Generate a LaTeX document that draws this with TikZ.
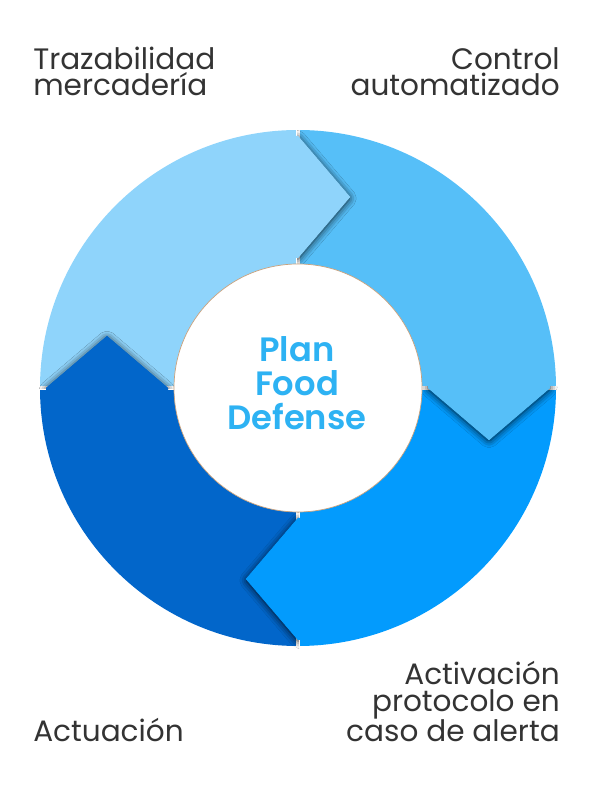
\documentclass[tikz,border=0pt]{standalone}
\usepackage{fontspec}
\setmainfont{Poppins}
\newfontfamily\titlefont{Poppins SemiBold}
\usetikzlibrary{shadows.blur,calc}
\begin{document}
\begin{tikzpicture}[x=0.025cm,y=0.025cm]
   \definecolor{segone}{HTML}{8FD4FB}
   \definecolor{segtwo}{HTML}{56BFF8}
   \definecolor{segthree}{HTML}{039BFD}
   \definecolor{segfour}{HTML}{0266CA}
   \definecolor{rimcolor}{HTML}{C9A27E}
   \definecolor{titlecolor}{HTML}{2DB2F3}
   \definecolor{labelcolor}{HTML}{333333}
   \tikzset{
     arrowshadow/.style={blur shadow={shadow xshift=0pt,shadow yshift=-1pt,
       shadow blur radius=5pt,shadow blur extra rounding=1pt,shadow opacity=85}},
     steplabel/.style={inner sep=0pt,text=labelcolor,font=\fontsize{21}{18.7}\selectfont}
   }
   \useasboundingbox (0,0) rectangle (600,800);
   \coordinate (c) at (298,412);
   % ring quarters
   \fill [segone] (c) -- ++(90:258) arc (90:180:258) -- cycle;
   \fill [segtwo] (c) -- ++(0:258) arc (0:90:258) -- cycle;
   \fill [segthree] (c) -- ++(-90:258) arc (-90:0:258) -- cycle;
   \fill [segfour] (c) -- ++(180:258) arc (180:270:258) -- cycle;
   \draw [white,line width=2.6pt] ($(c)+(0,-262)$) -- ($(c)+(0,262)$);
   \draw [white,line width=2.6pt] ($(c)+(-262,0)$) -- ($(c)+(262,0)$);
   % arrow tips
   \foreach \a/\col in {0/segone,-90/segtwo,-180/segthree,-270/segfour}{
     \begin{scope}[shift={(c)},rotate=\a]
       \begin{scope}
         \clip (-1,0) rectangle (262,262);
         \fill [\col,arrowshadow] (-4,252) -- (0,252) -- (52,191) -- (0,130) -- (-4,130) -- cycle;
       \end{scope}
       \fill [\col] (-3,252) -- (0,252) -- (52,191) -- (0,130) -- (-3,130) -- cycle;
     \end{scope}
   }
   \filldraw [fill=white,draw=rimcolor,line width=0.5pt] (c) circle (124);
   \node (plan) [text=titlecolor,font=\titlefont\fontsize{24}{24.2}\selectfont,align=center]
     at (297,417) {Plan\\Food\\Defense};
   \node (trace) [steplabel,anchor=base west,align=left] at (33,704) {Trazabilidad\\mercadería};
   \node (control) [steplabel,anchor=base east,align=right] at (560,704) {Control\\automatizado};
   \node (alert) [steplabel,anchor=base east,align=right] at (560,58)
     {Activación\\protocolo en\\caso de alerta};
   \node (act) [steplabel,anchor=base west] at (33,58) {Actuación};
\end{tikzpicture}
\end{document}
